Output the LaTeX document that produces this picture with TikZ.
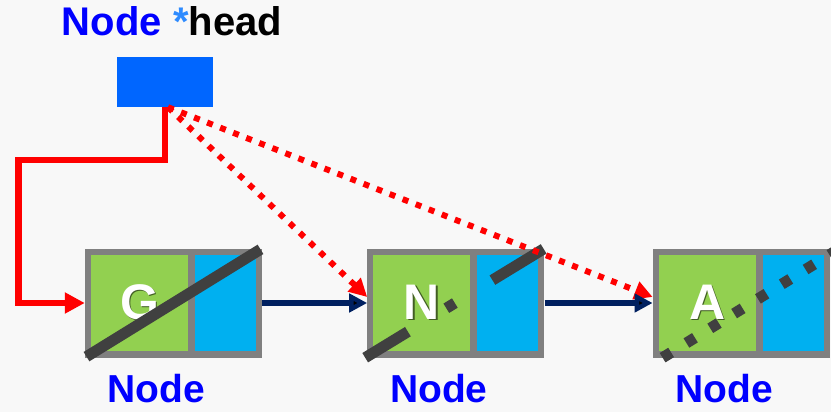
\documentclass[tikz,border=0pt]{standalone}
\usepackage{fontspec}
\setmainfont{Liberation Sans}
\usepackage{tikz}
\usetikzlibrary{arrows.meta,positioning}
\definecolor{bggray}{HTML}{F8F8F8}
\definecolor{boxgray}{HTML}{808080}
\definecolor{datagreen}{HTML}{92D050}
\definecolor{nextblue}{HTML}{00B0F0}
\definecolor{headblue}{HTML}{0066FF}
\definecolor{labelblue}{HTML}{0000FF}
\definecolor{starblue}{HTML}{2E8BFF}
\definecolor{slashgray}{HTML}{404040}
\definecolor{linknavy}{HTML}{002060}
\tikzset{
    %Define standard arrow tip
    >={Triangle[length=18pt,width=18pt]},
    %Define style for boxes
    listbox/.style={
           rectangle,
           fill=boxgray,
           inner sep=0pt,
           minimum width=177pt,
           minimum height=109pt},
    datacell/.style={
           rectangle,
           fill=datagreen,
           inner sep=0pt,
           minimum width=97pt,
           minimum height=96pt,
           text=white,
           font=\fontsize{50}{52}\selectfont\bfseries},
    nextcell/.style={
           rectangle,
           fill=nextblue,
           inner sep=0pt,
           minimum width=61pt,
           minimum height=96pt},
    headbox/.style={
           rectangle,
           fill=headblue,
           inner sep=0pt,
           minimum width=96pt,
           minimum height=50pt},
    caption/.style={
           inner sep=0pt,
           text=labelblue,
           font=\fontsize{39}{41}\selectfont\bfseries},
    % Define arrow style
    link/.style={
           ->,
           draw=linknavy,
           line width=6pt},
    headlink/.style={
           ->,
           draw=red,
           line width=6.5pt,
           >={Triangle[length=20pt,width=20pt]}},
    headtry/.style={
           ->,
           draw=red,
           line width=6pt,
           dash pattern=on 6pt off 8pt},
    nullslash/.style={
           draw=slashgray,
           line width=11pt}
}
\newcommand{\shadowletter}[1]{\makebox[0pt][l]{\hspace{1.5pt}\raisebox{-1.5pt}{\color{datagreen!45!black}#1}}#1}

\begin{document}
\begin{tikzpicture}[x=1pt,y=-1pt]
\fill[bggray] (0,0) rectangle (831,412);
\useasboundingbox (0,0) rectangle (831,412);
 %nodes
\node[headbox] (head) at (165,82) {};
\node[caption, above=21pt of head, xshift=7pt, font=\fontsize{40}{42}\selectfont\bfseries] (title) {Node {\color{starblue}*}{\color{black}head}};
\node[listbox] (b1) at (173.5,303) {};
\node[listbox, right=105pt of b1] (b2) {};
\node[listbox, right=108pt of b2] (b3) {};
\node[datacell, right=6pt of b1.west] (d1) {\shadowletter{G}};
\node[nextcell, left=6pt of b1.east] (n1) {};
\node[datacell, right=6pt of b2.west] (d2) {\shadowletter{N}};
\node[nextcell, left=6pt of b2.east] (n2) {};
\node[datacell, right=6pt of b3.west] (d3) {\shadowletter{A}};
\node[nextcell, left=6pt of b3.east] (n3) {};
\node[caption, below=16pt of b1, xshift=-17pt] (l1) {Node};
\node[caption, below=16pt of b2, xshift=-17pt] (l2) {Node};
\node[caption, below=16pt of b3, xshift=-17pt] (l3) {Node};
 %slashes
\draw[nullslash, shorten <=2pt, shorten >=2pt] (b1.south west) -- (b1.north east);
\draw[nullslash, dash pattern=on 50pt off 45pt on 10pt off 44pt on 60pt off 20pt] ([xshift=-2pt]b2.south west) -- (b2.north east);
\draw[nullslash, dash pattern=on 10pt off 18pt] ([xshift=10pt]b3.south west) -- ([xshift=10pt]b3.north east);
 %pointers
\coordinate (bend) at (18.5,160);
\draw[headlink] (head.south) |- (bend) |- (b1.west);
\draw[headtry] ([xshift=3pt]head.south) -- ([yshift=6pt]b2.west);
\draw[headtry] ([xshift=3pt]head.south) -- ([yshift=6pt]b3.west);
\path[link]
   (b1) edge (b2)
   (b2) edge (b3);
\end{tikzpicture}
\end{document}
